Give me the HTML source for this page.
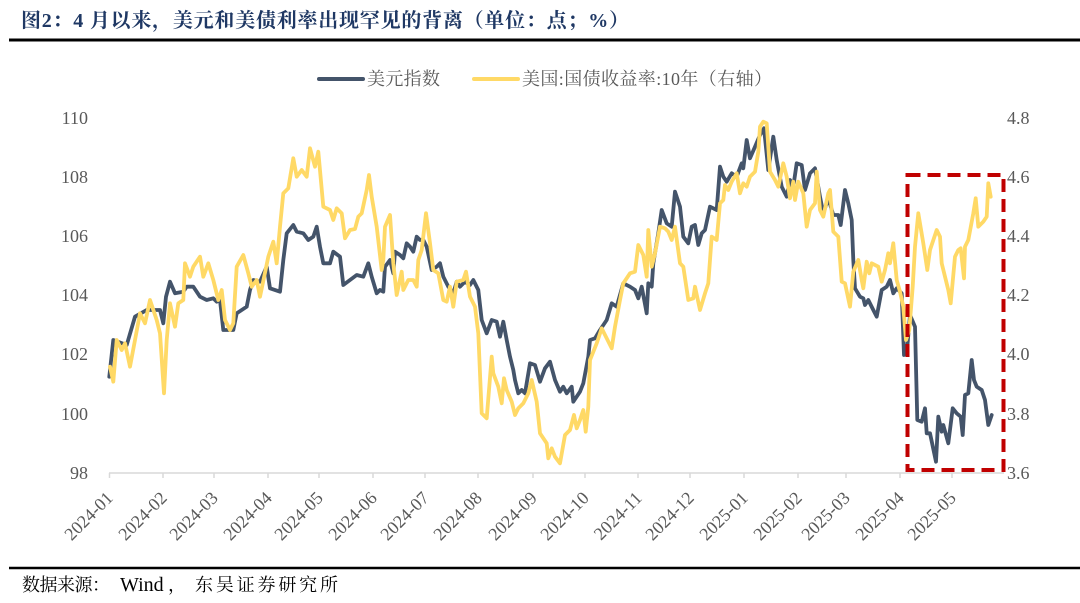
<!DOCTYPE html>
<html>
<head>
<meta charset="utf-8">
<style>
html,body{margin:0;padding:0;background:#fff;}
svg{display:block;}
.cj{font-family:"Liberation Serif","Noto Serif CJK SC",serif;}
.ax{font-family:"Liberation Serif",serif;font-size:18px;fill:#595959;}
</style>
</head>
<body>
<svg width="1080" height="603" viewBox="0 0 1080 603" xmlns="http://www.w3.org/2000/svg">
<rect width="1080" height="603" fill="#fff"/>
<!-- Title -->
<text class="cj" x="21" y="27" font-size="20" font-weight="bold" fill="#1f3864" textLength="608" lengthAdjust="spacing">图2：4 月以来，美元和美债利率出现罕见的背离（单位：点；%）</text>
<line x1="9" y1="40" x2="1080" y2="40" stroke="#000" stroke-width="3"/>

<!-- Legend -->
<line x1="319" y1="79" x2="363" y2="79" stroke="#44546a" stroke-width="4" stroke-linecap="round"/>
<text class="cj" x="367" y="85" font-size="18" fill="#595959" textLength="73" lengthAdjust="spacing">美元指数</text>
<line x1="474" y1="79" x2="518" y2="79" stroke="#ffd966" stroke-width="4" stroke-linecap="round"/>
<text class="cj" x="522" y="85" font-size="18" fill="#595959" textLength="250" lengthAdjust="spacing">美国:国债收益率:10年（右轴）</text>

<!-- Left axis labels -->
<g class="ax" text-anchor="end">
<text x="88" y="124">110</text>
<text x="88" y="183">108</text>
<text x="88" y="242">106</text>
<text x="88" y="301">104</text>
<text x="88" y="360">102</text>
<text x="88" y="420">100</text>
<text x="88" y="479">98</text>
</g>
<!-- Right axis labels -->
<g class="ax" text-anchor="start">
<text x="1007" y="124">4.8</text>
<text x="1007" y="183">4.6</text>
<text x="1007" y="242">4.4</text>
<text x="1007" y="301">4.2</text>
<text x="1007" y="360">4.0</text>
<text x="1007" y="420">3.8</text>
<text x="1007" y="479">3.6</text>
</g>

<!-- X axis -->
<line x1="109" y1="473" x2="1004" y2="473" stroke="#d9d9d9" stroke-width="1.5"/>
<g stroke="#d9d9d9" stroke-width="1.5">
<line x1="109.5" y1="473" x2="109.5" y2="478"/>
<line x1="163" y1="473" x2="163" y2="478"/>
<line x1="214" y1="473" x2="214" y2="478"/>
<line x1="268" y1="473" x2="268" y2="478"/>
<line x1="319" y1="473" x2="319" y2="478"/>
<line x1="373" y1="473" x2="373" y2="478"/>
<line x1="425" y1="473" x2="425" y2="478"/>
<line x1="478" y1="473" x2="478" y2="478"/>
<line x1="533" y1="473" x2="533" y2="478"/>
<line x1="585" y1="473" x2="585" y2="478"/>
<line x1="638" y1="473" x2="638" y2="478"/>
<line x1="690" y1="473" x2="690" y2="478"/>
<line x1="744" y1="473" x2="744" y2="478"/>
<line x1="798" y1="473" x2="798" y2="478"/>
<line x1="846" y1="473" x2="846" y2="478"/>
<line x1="900" y1="473" x2="900" y2="478"/>
<line x1="952" y1="473" x2="952" y2="478"/>
</g>
<g class="ax" text-anchor="end">
<text transform="translate(114,499) rotate(-45)">2024-01</text>
<text transform="translate(168,499) rotate(-45)">2024-02</text>
<text transform="translate(219,499) rotate(-45)">2024-03</text>
<text transform="translate(273,499) rotate(-45)">2024-04</text>
<text transform="translate(324,499) rotate(-45)">2024-05</text>
<text transform="translate(378,499) rotate(-45)">2024-06</text>
<text transform="translate(430,499) rotate(-45)">2024-07</text>
<text transform="translate(483,499) rotate(-45)">2024-08</text>
<text transform="translate(538,499) rotate(-45)">2024-09</text>
<text transform="translate(590,499) rotate(-45)">2024-10</text>
<text transform="translate(643,499) rotate(-45)">2024-11</text>
<text transform="translate(695,499) rotate(-45)">2024-12</text>
<text transform="translate(749,499) rotate(-45)">2025-01</text>
<text transform="translate(803,499) rotate(-45)">2025-02</text>
<text transform="translate(851,499) rotate(-45)">2025-03</text>
<text transform="translate(905,499) rotate(-45)">2025-04</text>
<text transform="translate(957,499) rotate(-45)">2025-05</text>
</g>

<!-- Dollar index -->
<polyline fill="none" stroke="#44546a" stroke-width="3.8" stroke-linejoin="round" stroke-linecap="round" points="109.3,376.7 113.3,340 126.7,345 135,316.7 146.7,310 160,310 163.3,323.3 166,296.7 170,281.7 175,293.3 183.3,291.7 186.7,286.7 193.3,286.7 200,296.7 206.7,300 213.3,298.3 216.7,301.7 220,300 223.3,330 233.3,330 236.7,313.3 246.7,306.7 250,290 253.3,280 260,281.7 266.7,266.7 270,288.3 280,291.7 283.3,260 286.7,233.3 293.3,225 296.7,231.7 303.3,233.3 308.3,240 313.3,236.7 316.7,226.7 320,246.7 323.3,263.3 330,263.3 333.3,251.7 340,256.7 343.3,285 350,280 356.7,275 363.3,276.7 368.3,263.3 371.7,276.7 376.7,293.3 380,290 383.3,291.7 385,266.7 390,260 393.3,273.3 395,251.7 400,255 403.3,258.3 406.7,243.3 410,246.7 413.3,251.7 416.7,236.7 420,240 423.3,240 426.7,246.7 431.7,270 436.7,266.7 440,263.3 443.3,276.7 448.3,286.7 453.3,293.3 456.7,281.7 460,286.7 465,281.7 470,285 473.3,280 478.3,290 481.7,320 486.7,333.3 491.7,320 496.7,321.7 500,336.7 503.3,321.7 506.7,340 510,356.7 513.3,370 515,380 518.3,393.3 521.7,390 525,393.3 530,363.3 535,365 540,381.7 545,368.3 550,361.7 555,380 560,391.7 563.3,386.7 566.7,393.3 571.7,386.7 573.3,401.7 580,391.7 583.3,383.3 588.3,356.7 590,340 595,338.3 600,330 606.7,320 611.7,303.3 616.7,306.7 623.3,283.3 630,286.7 635,290 638.3,298.3 641.7,286.7 646.7,313.3 648.3,283.3 651.7,286.7 653.3,263.3 658.3,233.3 661.7,210 666.7,223.3 671.7,226.7 675,191.7 680,206.7 683.3,236.7 688.3,243.3 691.7,226.7 695,225 698.3,245 701.7,233.3 705,230 710,206.7 716.7,210 720,166.7 723.3,176.7 726.7,181.7 731.7,173.3 736.7,176.7 741.7,163.3 743.3,168.3 746.7,140 750,158.3 755,146.7 760,135 764,128.3 768.3,170 773.3,136.7 776.7,160 781.7,186.7 786.7,196.7 790,180 793.3,186.7 796.7,163.3 801.7,165 805,190 810,173.3 815,168.3 820,196.7 823.3,213.3 828.3,198.3 833.3,215 838.3,215 840.7,225 845,190 848.3,203.3 851.7,220 853.3,260 855,288.3 860,296.7 863.3,298.3 865,305 868.3,300 873.3,310 876.7,316.7 881.7,290 886.7,286.7 890,280 893.3,293.3 896.7,288.3 901.7,293.3 904,355 907.3,346.7 910,315 915,326.7 917.3,420 921.7,421.7 925,408.3 926.7,433.3 930,433.3 936,461.7 938.3,416.7 941.7,431.7 943.3,425 948.3,443.3 952.7,408.3 956.7,413.3 960.7,416.7 962.7,435 965,395 968.3,393.3 971.7,360 974,380 976.7,386.7 981.7,390 985,400 988.3,425 991.7,415"/>

<!-- 10Y yield -->
<polyline fill="none" stroke="#ffd966" stroke-width="3.8" stroke-linejoin="round" stroke-linecap="round" points="110,366.7 113.3,381.7 116.7,340 121.7,350 125,343.3 130,366.7 140,313.3 145,323.3 150,300 156.7,320 160,333.3 164,393.3 166.7,340 170,303.3 175,326.7 178.3,303.3 183.3,300 185,263.3 190,276.7 193.3,266.7 200,256.7 203.3,276.7 208.3,263.3 213.3,280 218.3,300 221.7,290 225,320 230,330 233.3,323.3 236.7,266.7 243.3,255 248.3,273.3 251.7,286.7 256.7,280 260,296.7 268.3,256.7 273.3,241.7 276.7,263.3 280,226.7 283.3,193.3 288.3,188.3 293.3,158.3 296.7,176.7 301.7,170 306.7,176.7 310,148.3 315,166.7 318.3,151.7 323.3,206.7 330,210 333.3,220 336.7,208.3 341.7,213.3 345,238.3 350,230 355,229 358.3,216.7 361.7,213.3 366.7,190 369,175 371.7,196.7 376.7,226.7 381.7,270 383.3,260 385,226.7 390,215 393.3,263.3 396.7,295 401.7,271.7 403.3,290 408.3,280 413.3,280 416.7,286.7 418.3,260 421.7,250 426,213.3 430,243.3 433.3,270 438.3,273.3 443.3,300 446.7,301.7 450,286.7 453.3,306.7 456.7,281.7 463.3,280 466,271.7 470,296.7 475,306.7 478.3,333.3 481.7,413.3 486.7,418.3 491.7,356.7 493.3,373.3 498.3,386.7 501.7,403.3 504,378.3 506.7,390 511.7,401.7 515,415 518.3,408.3 523.3,403.3 528.3,393.3 531.7,380 536.7,401.7 540,433.3 546.7,443.3 548.3,458.3 551.7,448.3 555,456.7 560,463.3 565,435 570,430 574,415 576.7,428.3 580,420 583.3,410 585.7,431.7 588.3,406.7 590,360 596.7,343.3 601.7,328.3 606.7,338.3 611.7,348.3 615,326.7 620,300 623.3,283.3 630,273.3 635,271.7 638.3,245 643.3,255 646.7,276.7 648.3,230 651.7,266.7 655,253.3 660,226.7 665,228.3 668.3,231.7 671.7,240 675,226.7 680,263.3 683.3,266.7 688.3,300 693.3,298.3 695,286.7 700,310 705,293.3 708.3,283.3 711.7,236.7 716.7,240 720,203.3 723.3,200 725,185 728.3,190 731.7,181.7 736.7,173.3 740,193.3 743.3,183.3 746.7,186.7 750,176.7 755,171.7 758.3,151.7 760,126.7 763.3,121.7 766.7,123.3 770,171.7 775,180 778.3,186.7 783.3,163.3 786.7,176.7 790,198.3 793.3,181.7 795,200 798.3,181.7 803.3,193.3 806.7,226.7 810,210 815,203.3 816.7,171.7 820,210 823.3,216.7 828.3,193.3 830,190 833.3,231.7 838.3,236.7 841.7,281.7 845,283.3 850,306.7 853.3,271.7 858.3,260 861.7,280 863.3,288.3 866.7,261.7 869.3,273.3 871.7,263.3 878.3,266.7 881.7,281.7 885,270 888.3,253.3 890,263.3 893.3,243.3 896.7,280 900,291.7 903.3,306.7 906,340 909.3,330 912.7,286.7 915,246.7 918.3,213.3 923.3,243.3 927.3,270 930,250 936.7,230 940,236.7 941.7,263.3 948.3,290 950.7,303.3 955,256.7 958.3,250 960.7,248.3 964,278.3 965,246.7 968.3,240 973.3,213.3 975.7,198.3 978.3,226.7 983.3,221.7 986.7,216.7 988.3,183.3 990.7,196.7"/>

<!-- Red dashed highlight box -->
<rect x="907.5" y="175" width="96" height="295" fill="none" stroke="#c00000" stroke-width="4" stroke-dasharray="13 7"/>

<!-- Footer -->
<line x1="9" y1="568" x2="1080" y2="568" stroke="#000" stroke-width="2.5"/>
<text class="cj" x="22" y="591" font-size="18" fill="#000" textLength="88" lengthAdjust="spacing">数据来源：</text>
<text class="cj" x="120" y="591" font-size="20" fill="#000">Wind</text>
<text class="cj" x="168" y="591" font-size="18" fill="#000">，</text>
<text class="cj" x="195" y="591" font-size="18" fill="#000" textLength="143" lengthAdjust="spacing">东吴证券研究所</text>
</svg>
</body>
</html>
